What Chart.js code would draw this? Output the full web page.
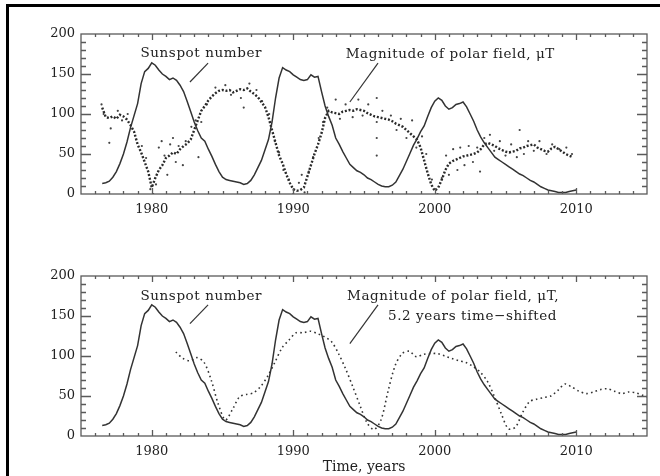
<!DOCTYPE html>
<html>
<head>
<meta charset="utf-8">
<script src="https://cdn.jsdelivr.net/npm/chart.js@4.4.1/dist/chart.umd.min.js"></script>
<style>
  html, body { margin: 0; padding: 0; background: #fff; }
  body { position: relative; width: 660px; height: 476px; overflow: hidden; }
  #frame { position: absolute; left: 6px; top: 4px; width: 720px; height: 540px; border: 3px solid #000; box-sizing: border-box; }
  canvas { position: absolute; left: 0; }
  #top { top: 0; }
  #bottom { top: 236px; }
</style>
</head>
<body>
<div id="frame"></div>
<canvas id="top" width="660" height="236"></canvas>
<canvas id="bottom" width="660" height="240"></canvas>
<script>
// smoothed sunspot number, quarter-year samples from 1976.5
const SUN_START = 1976.5, SUN_STEP = 0.25;
const sunspot = [
                 13, 14,  // 1976
  16, 21, 28, 38,         // 1977
  50, 65, 83, 98,
  113, 138, 153, 157,
  164, 161, 155, 150,     // 1980
  147, 143, 145, 142,
  136, 128, 116, 103,
  90, 79, 70, 66,
  56, 47, 37, 28,
  21, 18, 17, 16,         // 1985
  15, 14, 12, 13,
  17, 24, 33, 42,
  55, 68, 90, 120,
  145, 158, 155, 153,
  149, 146, 143, 142,     // 1990
  143, 149, 146, 147,
  128, 110, 97, 86,
  70, 62, 53, 45,
  37, 33, 29, 27,
  24, 20, 18, 15,         // 1995
  12, 10, 9, 9,
  11, 15, 23, 31,
  41, 51, 61, 69,
  78, 85, 97, 108,
  116, 120, 117, 110,     // 2000
  106, 108, 112, 113,
  115, 109, 100, 91,
  80, 71, 64, 58,
  52, 46, 43, 40,
  37, 34, 31, 28,         // 2005
  25, 23, 20, 17,
  15, 12, 9, 7,
  5, 4, 3, 2,
  2, 2, 3, 4,
  5                       // 2010
];

// polar field magnitude (uT), quarter-year samples from 1976.5
const POLAR_START = 1976.5, POLAR_STEP = 0.25;
const polarRaw = [
                 108, 96,
  95, 97, 94, 99,
  97, 93, 86, 78,
  62, 52, 40, 28,
  8, 20, 30, 36,          // 1980
  45, 48, 52, 50,
  56, 60, 63, 68,
  80, 92, 104, 110,
  117, 122, 126, 129,
  130, 129, 130, 127,     // 1985
  129, 131, 130, 132,
  128, 125, 121, 115,
  109, 96, 80, 64,
  48, 38, 25, 14,
  6, 4, 5, 8,             // 1990
  22, 36, 50, 62,
  76, 95, 104, 102,
  101, 100, 103, 104,
  105, 104, 106, 105,
  104, 101, 99, 97,       // 1995
  96, 95, 94, 93,
  91, 88, 86, 84,
  80, 76, 72, 68,
  58, 42, 26, 12,
  4, 8, 18, 30,           // 2000
  38, 41, 43, 45,
  47, 48, 49, 50,
  52, 56, 62, 64,
  62, 60, 57, 55,
  53, 52, 53, 54,         // 2005
  57, 58, 60, 61,
  62, 58, 56, 54,
  53, 57, 59, 56,
  53, 50, 48, 46
];

// scattered single measurements around the polar field curve
const outlierYears = [1976.45, 1976.6, 1977.0, 1977.1, 1977.6, 1977.9, 1978.3, 1979.3, 1979.6, 1979.9,
  1980.1, 1980.3, 1980.5, 1980.7, 1980.9, 1981.1, 1981.3, 1981.5, 1981.7, 1981.9,
  1982.2, 1982.4, 1982.8, 1983.1, 1983.3, 1983.5, 1983.9, 1984.5, 1985.2, 1985.6,
  1986.3, 1986.5, 1986.9, 1987.4, 1987.8, 1988.3, 1988.7, 1989.0, 1989.3, 1989.7,
  1990.0, 1990.4, 1990.6, 1990.8, 1991.1, 1991.4, 1991.8, 1992.1, 1992.4, 1993.0,
  1993.3, 1993.7, 1994.2, 1994.6, 1994.9, 1995.3, 1995.9, 1995.9, 1995.9, 1995.9,
  1996.3, 1996.9, 1997.3, 1997.6, 1998.0, 1998.4, 1998.7, 1999.1, 1999.4, 1999.8,
  2000.2, 2000.5, 2000.8, 2001.0, 2001.3, 2001.6, 2001.8, 2002.1, 2002.4, 2002.7,
  2003.0, 2003.2, 2003.5, 2003.9, 2004.2, 2004.6, 2005.0, 2005.4, 2005.8, 2006.0,
  2006.3, 2006.6, 2007.0, 2007.4, 2007.9, 2008.3, 2008.8, 2009.3, 2009.7];
const outlierValues = [112, 100, 64, 82, 104, 92, 100, 60, 45, 6,
  0, 12, 58, 66, 48, 24, 62, 70, 40, 60,
  36, 66, 84, 92, 46, 90, 112, 133, 136, 124,
  120, 108, 138, 130, 116, 100, 66, 52, 30, 18,
  0, 14, 24, 2, 28, 46, 70, 90, 108, 118,
  94, 112, 96, 118, 98, 112, 120, 90, 70, 48,
  104, 98, 80, 94, 70, 92, 58, 72, 50, 18,
  0, 20, 48, 24, 56, 30, 58, 36, 60, 40,
  58, 28, 70, 74, 54, 66, 48, 62, 46, 80,
  50, 66, 54, 66, 50, 62, 56, 58, 50];

// smoothed polar field, half-year samples from 1976.5 (drawn shifted in lower panel)
const SMOOTH_START = 1976.5, SMOOTH_STEP = 0.5;
const polarSmooth = [
  105, 97, 94, 98, 92, 70, 40, 20, 33, 49,      // 1976.5 - 1981.0
  52, 54, 62, 75, 92, 110, 120, 129, 129, 131,  // 1981.5 - 1986.0
  128, 124, 118, 103, 84, 62, 39, 17, 8, 20,    // 1986.5 - 1991.0
  56, 88, 103, 106, 99, 102, 103, 103, 100, 97, // 1991.5 - 1996.0
  94, 92, 87, 80, 69, 50, 28, 9, 11, 29,        // 1996.5 - 2001.0
  43, 46, 48, 50, 57, 65, 61, 56, 53, 55,       // 2001.5 - 2006.0
  58, 59, 56, 53, 55, 54, 51, 48                // 2006.5 - 2010.0
];
const TIME_SHIFT = 5.2;

const yearTicks = [1980, 1990, 2000, 2010];
const valueTicks = [0, 50, 100, 150, 200];

const TEXT = '#222';
const INK = '#333';
const FONT = '"DejaVu Serif", serif';
Chart.defaults.font.family = FONT;

function series(start, step, vals, shift) {
  return vals.map((v, i) => ({ x: start + i * step + (shift || 0), y: v }));
}

// IDL style box with inward ticks on all four sides
const frameTicks = {
  id: 'frameTicks',
  afterDatasetsDraw(chart) {
    const { ctx, chartArea: a, scales: { x, y } } = chart;
    ctx.save();
    ctx.strokeStyle = '#5a5a5a';
    ctx.lineWidth = 1.3;
    ctx.strokeRect(a.left, a.top, a.right - a.left, a.bottom - a.top);
    ctx.beginPath();
    for (let yr = 1976; yr <= 2014; yr++) {
      const px = Math.round(x.getPixelForValue(yr)) + 0.5;
      const len = yr % 10 === 0 ? 6 : 3;
      ctx.moveTo(px, a.bottom); ctx.lineTo(px, a.bottom - len);
      ctx.moveTo(px, a.top); ctx.lineTo(px, a.top + len);
    }
    for (let v = 10; v < 200; v += 10) {
      const py = Math.round(y.getPixelForValue(v)) + 0.5;
      const len = v % 50 === 0 ? 10 : 5;
      ctx.moveTo(a.left, py); ctx.lineTo(a.left + len, py);
      ctx.moveTo(a.right, py); ctx.lineTo(a.right - len, py);
    }
    ctx.stroke();
    ctx.restore();
  }
};

// labels with leader lines, placed in data coordinates
const notes = {
  id: 'notes',
  afterDraw(chart, args, opts) {
    const { ctx, scales: { x, y } } = chart;
    ctx.save();
    ctx.fillStyle = TEXT;
    ctx.strokeStyle = INK;
    ctx.lineWidth = 1.2;
    ctx.font = '13.5px ' + FONT;
    ctx.letterSpacing = '0.6px';
    ctx.textAlign = 'center';
    ctx.textBaseline = 'middle';
    (opts.labels || []).forEach(l => {
      ctx.fillText(l.text, x.getPixelForValue(l.x), y.getPixelForValue(l.y));
    });
    (opts.leaders || []).forEach(l => {
      ctx.beginPath();
      ctx.moveTo(x.getPixelForValue(l.x1), y.getPixelForValue(l.y1));
      ctx.lineTo(x.getPixelForValue(l.x2), y.getPixelForValue(l.y2));
      ctx.stroke();
    });
    ctx.restore();
  }
};

function options(padTop, axisH, tickPad, title, noteCfg) {
  return {
    responsive: false,
    animation: false,
    devicePixelRatio: 1,
    layout: { padding: { top: padTop, right: 13, left: 0, bottom: 0 } },
    plugins: {
      legend: { display: false },
      tooltip: { enabled: false },
      notes: noteCfg
    },
    scales: {
      x: {
        type: 'linear',
        min: 1975,
        max: 2015,
        grid: { display: false, drawTicks: false },
        border: { display: false },
        afterBuildTicks: s => { s.ticks = yearTicks.map(v => ({ value: v })); },
        afterFit: s => { s.height = axisH; },
        ticks: { padding: tickPad, color: TEXT, font: { size: 13 }, maxRotation: 0, autoSkip: false,
                 callback: v => String(v) },
        title: { display: !!title, text: title || '', color: TEXT, font: { size: 14 },
                 padding: { top: 0, bottom: 0 } }
      },
      y: {
        min: 0,
        max: 200,
        grid: { display: false, drawTicks: false },
        border: { display: false },
        afterBuildTicks: s => { s.ticks = valueTicks.map(v => ({ value: v })); },
        afterFit: s => { s.width = 81; },
        ticks: { padding: 6, color: TEXT, font: { size: 13 } }
      }
    }
  };
}

const sunLine = {
  label: 'Sunspot number',
  data: series(SUN_START, SUN_STEP, sunspot),
  borderColor: INK,
  borderWidth: 1.5,
  pointRadius: 0,
  tension: 0
};

new Chart(document.getElementById('top'), {
  type: 'line',
  data: {
    datasets: [
      sunLine,
      {
        label: 'Magnitude of polar field',
        data: series(POLAR_START, POLAR_STEP, polarRaw),
        borderColor: '#2a2a2a',
        borderWidth: 2.4,
        borderDash: [2, 1.8],
        pointRadius: 0,
        tension: 0
      },
      {
        label: 'Polar field samples',
        data: outlierYears.map((yr, i) => ({ x: yr, y: outlierValues[i] })),
        showLine: false,
        pointRadius: 1.1,
        pointBorderWidth: 0,
        pointBackgroundColor: '#444'
      }
    ]
  },
  options: options(34, 42, 8, null, {
    labels: [
      { text: 'Sunspot number', x: 1983.5, y: 176 },
      { text: 'Magnitude of polar field, \u03bcT', x: 2001.1, y: 175 }
    ],
    leaders: [
      { x1: 1983.98, y1: 163.5, x2: 1982.7, y2: 140 },
      { x1: 1995.99, y1: 163.5, x2: 1994.0, y2: 115 }
    ]
  }),
  plugins: [frameTicks, notes]
});

new Chart(document.getElementById('bottom'), {
  type: 'line',
  data: {
    datasets: [
      Object.assign({}, sunLine, { data: series(SUN_START, SUN_STEP, sunspot) }),
      {
        label: 'Magnitude of polar field, 5.2 years time-shifted',
        data: series(SMOOTH_START, SMOOTH_STEP, polarSmooth, TIME_SHIFT),
        borderColor: INK,
        borderWidth: 1.6,
        borderDash: [1.6, 3.2],
        pointRadius: 0,
        tension: 0.3
      }
    ]
  },
  options: options(40, 40, 8, 'Time, years', {
    labels: [
      { text: 'Sunspot number', x: 1983.5, y: 174 },
      { text: 'Magnitude of polar field, \u03bcT,', x: 2001.3, y: 174 },
      { text: '5.2 years time\u2212shifted', x: 2002.67, y: 149 }
    ],
    leaders: [
      { x1: 1983.98, y1: 164, x2: 1982.7, y2: 140.5 },
      { x1: 1995.99, y1: 164, x2: 1994.0, y2: 115.5 }
    ]
  }),
  plugins: [frameTicks, notes]
});
</script>
</body>
</html>
